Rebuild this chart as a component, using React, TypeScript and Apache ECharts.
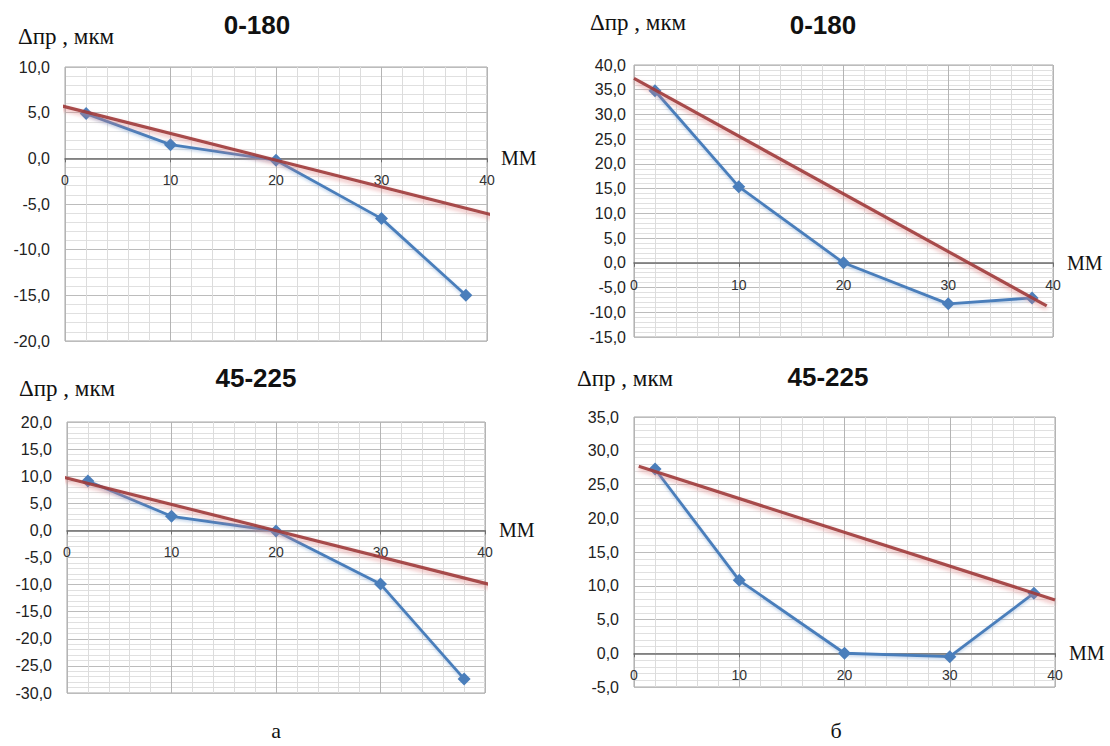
import React, { useEffect, useRef } from 'react';
import * as echarts from 'echarts';

// ---- data ----
const xPositions = [2, 10, 20, 30, 38];
const xTicks = [0, 10, 20, 30, 40];

const topLeftValues = [4.9, 1.5, -0.2, -6.6, -15.0];
const topRightValues = [34.8, 15.4, 0.0, -8.3, -7.1];
const bottomLeftValues = [9.1, 2.6, -0.1, -9.9, -27.4];
const bottomRightValues = [27.3, 10.8, 0.0, -0.5, 8.9];

const topLeftTrendX = [-0.7, 41.2];
const topLeftTrendY = [5.85, -6.4];
const topRightTrendX = [0, 39.4];
const topRightTrendY = [37.3, -8.7];
const bottomLeftTrendX = [-1.15, 40.7];
const bottomLeftTrendY = [10.2, -10.1];
const bottomRightTrendX = [0.45, 40.0];
const bottomRightTrendY = [27.7, 7.9];

const yRanges = [
  [-20, 10],
  [-15, 40],
  [-30, 20],
  [-5, 35],
];

const panelTitles = ['0-180', '0-180', '45-225', '45-225'];
const yAxisTitle = 'Δпр , мкм';
const xAxisTitle = 'ММ';
const subLabels = ['а', 'б'];

// ---- layout ----
const grids = [
  { left: 65, top: 67, width: 422, height: 274 },
  { left: 634, top: 65, width: 419, height: 272 },
  { left: 67, top: 422, width: 418, height: 271 },
  { left: 634, top: 417, width: 421, height: 270 },
];
const yLabelMargins = [15, 8, 15, 15];
const titlePos = [
  [257, 25],
  [823, 25],
  [256, 378],
  [828, 377],
];
const yTitlePos = [
  [18, 36],
  [590, 22],
  [19, 388],
  [577, 378],
];
const subLabelPos = [
  [276, 730],
  [836, 730],
];

const values = [topLeftValues, topRightValues, bottomLeftValues, bottomRightValues];
const trendX = [topLeftTrendX, topRightTrendX, bottomLeftTrendX, bottomRightTrendX];
const trendY = [topLeftTrendY, topRightTrendY, bottomLeftTrendY, bottomRightTrendY];

const BLUE = '#4a7ebb';
const RED = '#9e3838';
const SANS = 'Liberation Sans, Arial, sans-serif';
const SERIF = 'Liberation Serif, DejaVu Serif, serif';

function buildOption() {
  const grid = grids.map((g) => ({ ...g, show: true, borderColor: '#a6a6a6', borderWidth: 1, backgroundColor: '#fff' }));

  const xAxis = grids.map((g, i) => {
    const [lo, hi] = yRanges[i];
    const zeroOffset = -g.height * (0 - lo) / (hi - lo);
    return {
      type: 'value',
      gridIndex: i,
      position: 'bottom',
      offset: zeroOffset,
      min: 0,
      max: 40,
      interval: 10,
      name: xAxisTitle,
      nameLocation: 'end',
      nameGap: 14,
      nameTextStyle: { fontFamily: SERIF, fontSize: 20, color: '#111' },
      axisLine: { show: true, onZero: false, lineStyle: { color: '#6e6e6e', width: 1.5 } },
      axisTick: { show: true, inside: false, length: 4, lineStyle: { color: '#6e6e6e' } },
      axisLabel: {
        fontFamily: SANS,
        fontSize: 14,
        color: '#333',
        margin: 15,
        formatter: (v: number) => (xTicks.includes(v) ? String(v) : ''),
      },
      splitLine: { show: true, lineStyle: { color: '#b4b4b4', width: 1 } },
      minorTick: { show: false, splitNumber: 5 },
      minorSplitLine: { show: true, lineStyle: { color: '#dcdcdc', width: 1 } },
    };
  });

  const yAxis = grids.map((_, i) => ({
    type: 'value',
    gridIndex: i,
    min: yRanges[i][0],
    max: yRanges[i][1],
    interval: 5,
    axisLine: { show: false },
    axisTick: { show: false },
    axisLabel: {
      fontFamily: SANS,
      fontSize: 16,
      color: '#222',
      margin: yLabelMargins[i],
      formatter: (v: number) => v.toFixed(1).replace('.', ','),
    },
    splitLine: { show: true, lineStyle: { color: '#bcbcbc', width: 1 } },
    minorTick: { show: false, splitNumber: 5 },
    minorSplitLine: { show: true, lineStyle: { color: '#e0e0e0', width: 1 } },
  }));

  const series: any[] = [];
  grids.forEach((_, i) => {
    series.push({
      type: 'line',
      xAxisIndex: i,
      yAxisIndex: i,
      data: xPositions.map((x, k) => [x, values[i][k]]),
      symbol: 'diamond',
      symbolSize: 13,
      lineStyle: {
        color: BLUE,
        width: 2.8,
        shadowColor: 'rgba(120,160,210,0.5)',
        shadowBlur: 3,
        shadowOffsetY: 1.5,
      },
      itemStyle: { color: BLUE },
      z: 3,
    });
    series.push({
      type: 'line',
      xAxisIndex: i,
      yAxisIndex: i,
      data: trendX[i].map((x, k) => [x, trendY[i][k]]),
      symbol: 'none',
      clip: false,
      lineStyle: {
        color: RED,
        width: 3.2,
        opacity: 0.9,
        shadowColor: 'rgba(225,130,130,0.7)',
        shadowBlur: 4,
        shadowOffsetY: 2.5,
      },
      z: 4,
    });
  });

  const graphic: any[] = [];
  panelTitles.forEach((t, i) => {
    graphic.push({
      type: 'text',
      x: titlePos[i][0],
      y: titlePos[i][1],
      style: {
        text: t,
        fontFamily: SANS,
        fontWeight: 'bold',
        fontSize: 26,
        fill: '#111',
        textAlign: 'center',
        textVerticalAlign: 'middle',
      },
    });
    graphic.push({
      type: 'text',
      x: yTitlePos[i][0],
      y: yTitlePos[i][1],
      style: {
        text: yAxisTitle,
        fontFamily: SERIF,
        fontSize: 23,
        fill: '#111',
        textAlign: 'left',
        textVerticalAlign: 'middle',
      },
    });
  });
  subLabels.forEach((t, i) => {
    graphic.push({
      type: 'text',
      x: subLabelPos[i][0],
      y: subLabelPos[i][1],
      style: {
        text: t,
        fontFamily: SERIF,
        fontSize: 22,
        fill: '#111',
        textAlign: 'center',
        textVerticalAlign: 'middle',
      },
    });
  });

  return {
    animation: false,
    backgroundColor: '#fff',
    grid,
    xAxis,
    yAxis,
    series,
    graphic,
  };
}

export default function App() {
  const ref = useRef<HTMLDivElement>(null);
  useEffect(() => {
    const chart = echarts.init(ref.current!, null, { renderer: 'svg' });
    chart.setOption(buildOption() as any);
    return () => chart.dispose();
  }, []);
  return (
    <div
      ref={ref}
      style={{ position: 'absolute', left: 0, top: 0, width: 1110, height: 746, background: '#fff' }}
    />
  );
}
